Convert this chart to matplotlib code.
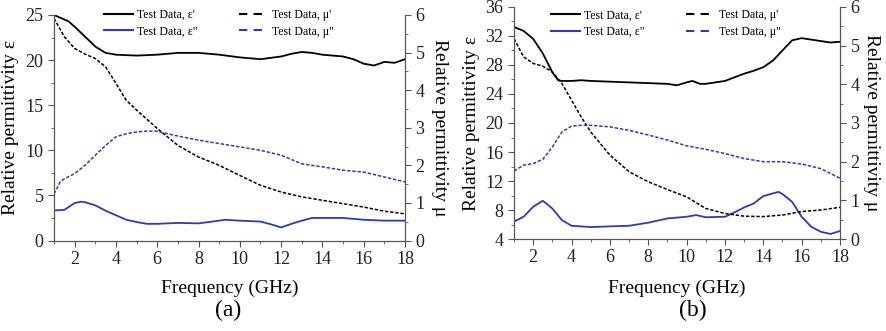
import numpy as np
import matplotlib
matplotlib.use("Agg")
import matplotlib.pyplot as plt
from matplotlib.ticker import MultipleLocator
from matplotlib.lines import Line2D

plt.rcParams['font.family'] = ['Liberation Serif', 'DejaVu Serif']
plt.rcParams['mathtext.fontset'] = 'stix'

# ---------------- Panel (a) data ----------------
fa_ep = [1, 1.7, 2, 2.5, 3, 3.5, 4, 5, 6, 7, 8, 9, 10, 11, 12, 12.5, 13, 13.5, 14, 15, 15.5, 16, 16.5, 17, 17.5, 18]
a_ep = [25, 24.3, 23.7, 22.6, 21.5, 20.8, 20.6, 20.5, 20.6, 20.8, 20.8, 20.6, 20.3, 20.1, 20.4, 20.7, 20.9, 20.8, 20.6, 20.4, 20.1, 19.6, 19.4, 19.8, 19.7, 20.1]

fa_epp = [1, 1.5, 2, 2.3, 2.5, 3, 3.5, 4, 4.5, 5, 5.5, 6, 7, 8, 9, 9.3, 10, 11, 11.5, 12, 12.5, 13, 13.5, 14, 15, 16, 17, 18]
a_epp = [3.33, 3.4, 4.15, 4.3, 4.25, 3.9, 3.3, 2.8, 2.3, 2.05, 1.85, 1.85, 1.95, 1.9, 2.2, 2.3, 2.2, 2.1, 1.8, 1.45, 1.85, 2.2, 2.5, 2.5, 2.5, 2.3, 2.2, 2.2]

fa_mp = [1, 1.5, 2, 2.5, 3, 3.5, 4, 4.5, 5, 6, 7, 8, 9, 10, 11, 12, 13, 14, 15, 16, 17, 18]
a_mp = [5.91, 5.42, 5.11, 4.96, 4.84, 4.62, 4.18, 3.73, 3.47, 2.98, 2.53, 2.22, 2.0, 1.73, 1.47, 1.29, 1.16, 1.07, 0.98, 0.89, 0.78, 0.71]

fa_mpp = [1, 1.3, 1.5, 2, 2.5, 3, 3.5, 4, 4.5, 5, 5.5, 6, 6.5, 7, 8, 9, 10, 11, 12, 13, 14, 15, 16, 17, 18]
a_mpp = [1.24, 1.56, 1.64, 1.78, 2.0, 2.27, 2.53, 2.76, 2.84, 2.89, 2.91, 2.91, 2.84, 2.78, 2.67, 2.58, 2.49, 2.4, 2.27, 2.04, 1.96, 1.87, 1.82, 1.69, 1.56]

# ---------------- Panel (b) data ----------------
fb_ep = [1, 1.5, 2, 2.5, 3, 3.3, 3.5, 4, 4.5, 5, 6, 7, 8, 9, 9.5, 10, 10.3, 10.7, 11, 11.5, 12, 12.5, 13, 13.5, 14, 14.5, 15, 15.5, 16, 16.5, 17, 17.5, 18]
b_ep = [33.25, 32.7, 31.6, 29.6, 27.0, 25.9, 25.8, 25.8, 25.9, 25.8, 25.7, 25.6, 25.5, 25.4, 25.2, 25.6, 25.8, 25.4, 25.4, 25.6, 25.8, 26.3, 26.8, 27.2, 27.7, 28.6, 30.0, 31.4, 31.7, 31.5, 31.3, 31.1, 31.2]

fb_epp = [1, 1.5, 2, 2.5, 3, 3.5, 4, 5, 6, 7, 8, 9, 10, 10.5, 11, 12, 12.5, 13, 13.5, 14, 14.5, 14.8, 15, 15.5, 16, 16.5, 17, 17.5, 18]
b_epp = [6.4, 7.07, 8.45, 9.28, 8.2, 6.6, 5.83, 5.65, 5.74, 5.83, 6.25, 6.84, 7.07, 7.3, 7.0, 7.07, 7.67, 8.36, 8.9, 9.92, 10.29, 10.5, 10.2, 9.14, 7.07, 5.7, 5.0, 4.7, 5.1]

fb_mp = [1, 1.5, 2, 2.5, 3, 3.5, 4, 4.5, 5, 6, 7, 8, 9, 10, 11, 12, 13, 14, 15, 16, 17, 18]
b_mp = [5.18, 4.71, 4.54, 4.47, 4.32, 4.02, 3.59, 3.16, 2.77, 2.17, 1.74, 1.48, 1.28, 1.09, 0.79, 0.66, 0.59, 0.58, 0.62, 0.71, 0.75, 0.82]

fb_mpp = [1, 1.5, 2, 2.5, 3, 3.5, 4, 4.5, 5, 6, 7, 8, 9, 10, 11, 12, 13, 14, 15, 16, 17, 18]
b_mpp = [1.76, 1.91, 1.95, 2.06, 2.38, 2.77, 2.92, 2.94, 2.94, 2.9, 2.81, 2.69, 2.56, 2.41, 2.32, 2.21, 2.08, 2.0, 2.0, 1.94, 1.82, 1.57]

legend_labels = ["Test Data, ε'", 'Test Data, ε"', "Test Data, μ'", 'Test Data, μ"']
xticks = [2, 4, 6, 8, 10, 12, 14, 16, 18]

BLUE = '#2f3caa'
SPINE = '#555555'

fig = plt.figure(figsize=(8.87, 3.31), dpi=100)

def style(ax):
    for s in ax.spines.values():
        s.set_color(SPINE)
    ax.tick_params(which='both', direction='out', colors=SPINE, labelcolor='#222222', labelsize=13)
    ax.tick_params(which='major', length=4)
    ax.tick_params(which='minor', length=2.5)

def panel(rect, data, ylim_l, lmaj, lmin, legend_anchor, lab_x, tag, tagpos):
    ax = fig.add_axes(rect)
    ax2 = ax.twinx()
    (f1, y1), (f2, y2), (f3, y3), (f4, y4) = data
    ax.plot(f1, y1, color='black', lw=1.3)
    ax.plot(f2, y2, color=BLUE, lw=1.3)
    ax2.plot(f3, y3, color='black', lw=1.1, ls=(0, (2.2, 1.2)))
    ax2.plot(f4, y4, color=BLUE, lw=1.1, ls=(0, (2.2, 1.2)))
    ax.set_xlim(1, 18)
    ax.set_ylim(*ylim_l)
    ax2.set_ylim(0, 6)
    ax.set_xticks(xticks)
    ax.xaxis.set_minor_locator(MultipleLocator(1))
    ax.yaxis.set_major_locator(MultipleLocator(lmaj))
    ax.yaxis.set_minor_locator(MultipleLocator(lmin))
    ax2.yaxis.set_major_locator(MultipleLocator(1))
    ax2.yaxis.set_minor_locator(MultipleLocator(0.5))
    ax.spines['top'].set_visible(False)
    ax2.spines['top'].set_visible(False)
    style(ax)
    style(ax2)
    ax.set_xlabel('Frequency (GHz)', fontsize=14)
    ax.set_ylabel('Relative permittivity ε', fontsize=14)
    ax2.set_ylabel('Relative permittivity μ', fontsize=14, rotation=270, va='bottom')
    ax.xaxis.set_label_coords(0.5, -0.175)
    ax.yaxis.set_label_coords(lab_x[0], 0.5)
    ax2.yaxis.set_label_coords(lab_x[1], 0.5)
    handles = [Line2D([], [], color='black', lw=1.5),
               Line2D([], [], color=BLUE, lw=1.5),
               Line2D([], [], color='black', lw=1.5, ls=(0, (4, 3))),
               Line2D([], [], color=BLUE, lw=1.5, ls=(0, (4, 3)))]
    ax2.legend(handles, legend_labels, ncol=2, frameon=False,
               fontsize=8.5, loc='upper left', bbox_to_anchor=legend_anchor,
               handlelength=2.45, handletextpad=0.35, columnspacing=3.5,
               labelspacing=0.4, borderaxespad=0, borderpad=0)
    fig.text(tagpos[0], tagpos[1], tag, fontsize=17, ha='center', va='center')
    return ax, ax2

panel([0.0609, 0.2734, 0.3957, 0.6813],
      [(fa_ep, a_ep), (fa_epp, a_epp), (fa_mp, a_mp), (fa_mpp, a_mpp)],
      (0, 25), 5, 2.5, (0.142, 1.027), (-0.1, 1.074), '(a)', (0.257, 0.063))

panel([0.5795, 0.2779, 0.3675, 0.701],
      [(fb_ep, b_ep), (fb_epp, b_epp), (fb_mp, b_mp), (fb_mpp, b_mpp)],
      (4, 36), 4, 2, (0.113, 0.99), (-0.104, 1.07), '(b)', (0.781, 0.063))

fig.savefig('out.png', dpi=100)
